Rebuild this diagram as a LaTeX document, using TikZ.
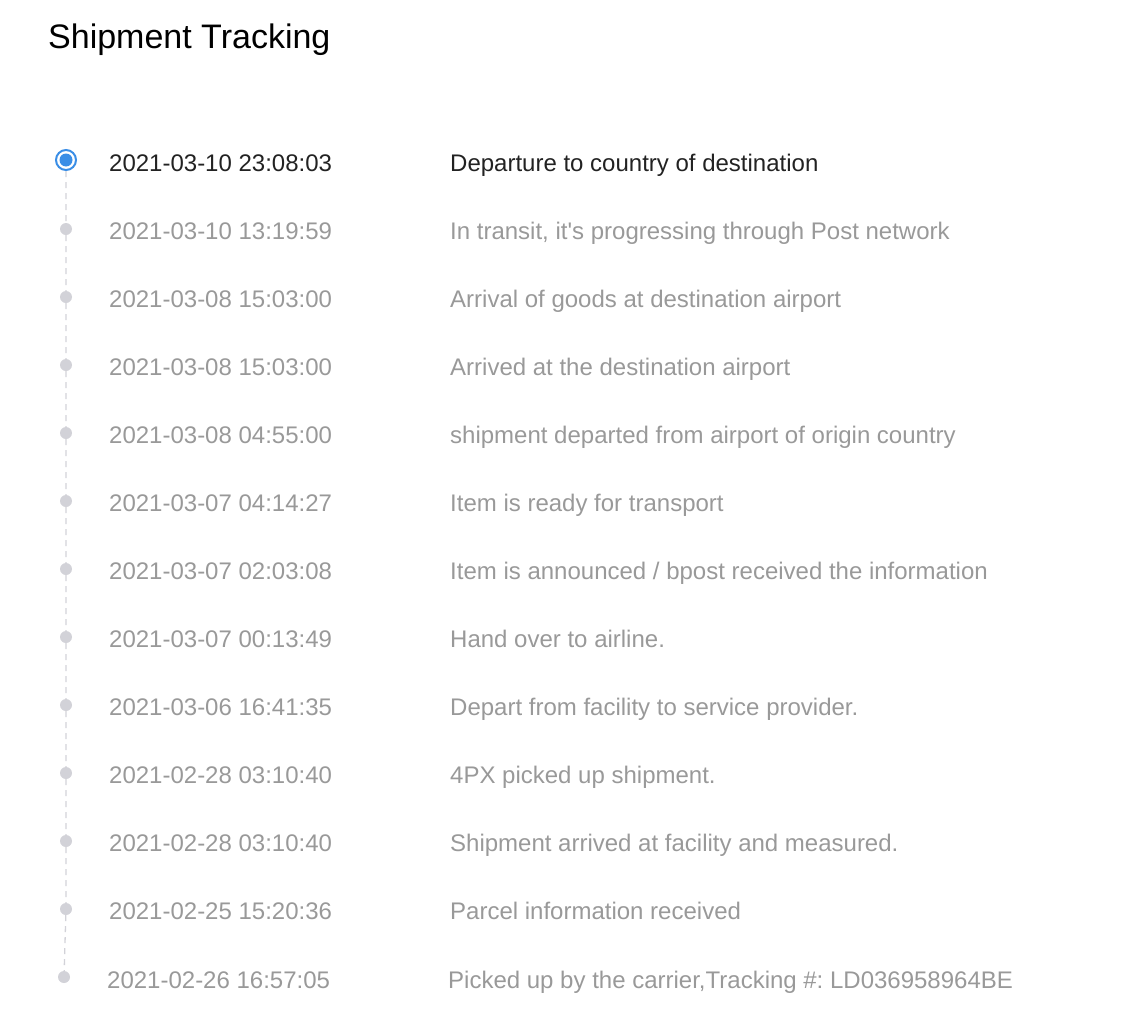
\documentclass[tikz,border=0pt]{standalone}
\usepackage{fontspec}
\setmainfont{Liberation Sans}
\usetikzlibrary{positioning}

\definecolor{trackblue}{HTML}{3A8EE6}
\definecolor{trackgray}{HTML}{999999}
\definecolor{trackdot}{HTML}{D2D2D8}
\definecolor{tracktext}{HTML}{222222}

\begin{document}
\frenchspacing
\begin{tikzpicture}[x=1pt,y=-1pt,
	stopnode/.style={circle,fill=trackdot,inner sep=0pt,minimum size=12pt},
	nownode/.style={circle,draw=trackblue,line width=2pt,inner sep=0pt,minimum size=20pt,
		path picture={\fill[trackblue] (path picture bounding box.center) circle (6.5pt);}},
	datenode/.style={anchor=base west,inner sep=0pt,text=trackgray,font=\fontsize{24}{28}\selectfont},
	msgnode/.style={datenode},
	trackline/.style={draw=trackdot,line width=1.3pt,dash pattern=on 6pt off 5pt}]
			\useasboundingbox (0,0) rectangle (1138,1036);

			\node[anchor=base west,inner sep=0pt,font=\fontsize{34}{40}\selectfont]	(title)	at (48,48)	{Shipment Tracking};

			\node[nownode]		(s0)	at (66,160)		{};
			\node[stopnode]		(s1)	at (66,229)		{};
			\node[stopnode]		(s2)	at (66,297)		{};
			\node[stopnode]		(s3)	at (66,365)		{};
			\node[stopnode]		(s4)	at (66,433)		{};
			\node[stopnode]		(s5)	at (66,501)		{};
			\node[stopnode]		(s6)	at (66,569)		{};
			\node[stopnode]		(s7)	at (66,637)		{};
			\node[stopnode]		(s8)	at (66,705)		{};
			\node[stopnode]		(s9)	at (66,773)		{};
			\node[stopnode]		(s10)	at (66,841)		{};
			\node[stopnode]		(s11)	at (66,909)		{};
			\node[stopnode]		(s12)	at (64,977)		{};

			\node[datenode,text=tracktext]	(d0)	at (109,171.5)	{2021-03-10 23:08:03};
			\node[datenode]		(d1)	at (109,239.5)	{2021-03-10 13:19:59};
			\node[datenode]		(d2)	at (109,307.5)	{2021-03-08 15:03:00};
			\node[datenode]		(d3)	at (109,375.5)	{2021-03-08 15:03:00};
			\node[datenode]		(d4)	at (109,443.5)	{2021-03-08 04:55:00};
			\node[datenode]		(d5)	at (109,511.5)	{2021-03-07 04:14:27};
			\node[datenode]		(d6)	at (109,579.5)	{2021-03-07 02:03:08};
			\node[datenode]		(d7)	at (109,647.5)	{2021-03-07 00:13:49};
			\node[datenode]		(d8)	at (109,715.5)	{2021-03-06 16:41:35};
			\node[datenode]		(d9)	at (109,783.5)	{2021-02-28 03:10:40};
			\node[datenode]		(d10)	at (109,851.5)	{2021-02-28 03:10:40};
			\node[datenode]		(d11)	at (109,919.5)	{2021-02-25 15:20:36};
			\node[datenode]		(d12)	at (107,988.5)	{2021-02-26 16:57:05};

			\node[msgnode,text=tracktext]	(m0)	at (450,171.5)	{Departure to country of destination};
			\node[msgnode]		(m1)	at (450,239.5)	{In transit, it\textquotesingle s progressing through Post network};
			\node[msgnode]		(m2)	at (450,307.5)	{Arrival of goods at destination airport};
			\node[msgnode]		(m3)	at (450,375.5)	{Arrived at the destination airport};
			\node[msgnode]		(m4)	at (450,443.5)	{shipment departed from airport of origin country};
			\node[msgnode]		(m5)	at (450,511.5)	{Item is ready for transport};
			\node[msgnode]		(m6)	at (450,579.5)	{Item is announced / bpost received the information};
			\node[msgnode]		(m7)	at (450,647.5)	{Hand over to airline.};
			\node[msgnode]		(m8)	at (450,715.5)	{Depart from facility to service provider.};
			\node[msgnode]		(m9)	at (450,783.5)	{4PX picked up shipment.};
			\node[msgnode]		(m10)	at (450,851.5)	{Shipment arrived at facility and measured.};
			\node[msgnode]		(m11)	at (450,919.5)	{Parcel information received};
			\node[msgnode]		(m12)	at (448,988.5)	{Picked up by the carrier,Tracking \#: LD036958964BE};

			\draw[trackline] (s0) -- (s1) -- (s2) -- (s3) -- (s4) -- (s5) -- (s6)
				-- (s7) -- (s8) -- (s9) -- (s10) -- (s11) -- (s12);
		\end{tikzpicture}
\end{document}
